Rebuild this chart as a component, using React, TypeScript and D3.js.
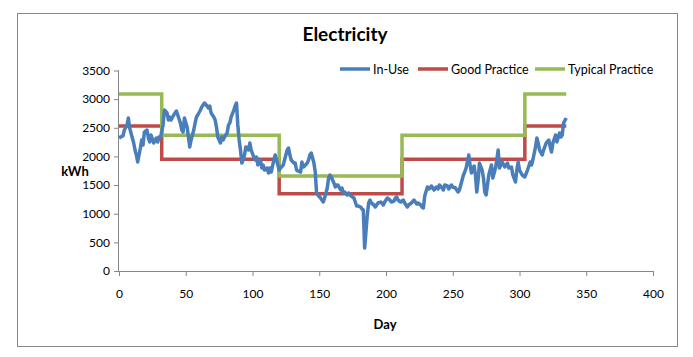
import React, { useEffect, useRef } from "react";
import * as d3 from "d3";

const title = "Electricity";
const xTicks = [0, 50, 100, 150, 200, 250, 300, 350, 400];
const yTicks = [0, 500, 1000, 1500, 2000, 2500, 3000, 3500];

// In-Use daily consumption (day, kWh)
const inUseDays = [
  0, 1, 3, 4, 6, 7, 8, 9, 11, 12, 13, 14, 16, 17, 18, 19, 21, 22, 23, 24, 26, 27, 28, 29, 30, 31,
  33, 34, 36, 37, 38, 39, 41, 42, 43, 44, 46, 47, 48, 49, 51, 52, 53, 54, 56, 57, 58, 59, 61, 62,
  63, 64, 66, 67, 68, 69, 71, 72, 73, 74, 76, 77, 78, 79, 81, 82, 83, 84, 86, 87, 88, 89, 90, 91,
  92, 93, 94, 95, 96, 97, 98, 99, 101, 102, 103, 104, 106, 107, 108, 109, 111, 112, 113, 114, 116,
  117, 118, 119, 120, 121, 123, 124, 126, 127, 128, 129, 131, 132, 133, 134, 136, 137, 138, 139,
  141, 142, 143, 144, 145, 146, 147, 148, 149, 151, 152, 153, 154, 156, 157, 158, 159, 161, 162,
  163, 164, 166, 167, 168, 169, 171, 172, 173, 174, 176, 177, 178, 179, 181, 182, 183, 184, 186,
  187, 188, 189, 191, 192, 193, 194, 196, 197, 198, 199, 201, 202, 203, 204, 206, 207, 208, 209,
  211, 212, 213, 214, 216, 217, 218, 219, 221, 222, 223, 224, 226, 227, 228, 229, 231, 232, 233,
  234, 236, 237, 238, 239, 240, 242, 243, 244, 246, 247, 248, 249, 250, 252, 253, 254, 255, 257,
  258, 259, 260, 262, 263, 264, 265, 266, 267, 268, 269, 270, 272, 273, 274, 275, 277, 278, 279,
  280, 282, 283, 284, 285, 287, 289, 291, 292, 294, 295, 297, 298, 299, 300, 302, 304, 306, 308,
  309, 310, 312, 313, 314, 315, 317, 318, 320, 322, 323, 324, 325, 327, 328, 330, 331, 332, 333, 335,
];
const inUseKWh = [
  2322, 2339, 2357, 2461, 2549, 2671, 2496, 2409, 2234, 2112, 2025, 1903, 2147, 2287, 2199, 2426,
  2461, 2322, 2252, 2374, 2234, 2287, 2322, 2252, 2339, 2322,
  2549, 2810, 2758, 2636, 2688, 2636, 2723, 2758, 2793, 2723, 2583, 2461, 2426, 2671, 2514, 2339,
  2165, 2287, 2461, 2583, 2688, 2723, 2810, 2863, 2898, 2933, 2880, 2845, 2880, 2758, 2688, 2636,
  2514, 2339, 2234, 2339, 2287, 2339, 2409, 2549, 2583, 2688, 2810, 2880, 2933, 2549, 2287, 2112,
  1885, 1938, 2025, 2165, 2147, 2112, 2234, 2112, 1990, 1938, 1990, 1850, 1938, 1798, 1850, 1763,
  1798, 1711, 1798, 1728, 1938, 2025, 1938, 1850, 1763, 1798, 1850, 1938, 2112, 2147, 2025, 1938,
  1885, 1885, 1763, 1746, 1728, 1903, 1815, 1833, 1885, 1938, 2025, 2060, 1973, 1885, 1728, 1362,
  1327, 1274, 1239, 1204, 1274, 1449, 1623, 1676, 1641, 1536, 1466, 1501, 1501, 1414, 1449, 1362,
  1379, 1327, 1362, 1327, 1309, 1274, 1204, 1135, 1135, 1117, 1082, 1065, 401, 978, 1187, 1239,
  1187, 1152, 1117, 1152, 1187, 1204, 1187, 1152, 1204, 1274, 1257, 1239, 1204, 1222, 1274, 1292,
  1239, 1204, 1222, 1239, 1187, 1117, 1152, 1170, 1187, 1239, 1204, 1170, 1187, 1152, 1117, 1100,
  1309, 1466, 1431, 1449, 1484, 1414, 1449, 1466, 1431, 1501, 1449, 1414, 1501, 1484, 1431, 1466,
  1501, 1466, 1449, 1414, 1379, 1414, 1588, 1676, 1728, 1798, 2025, 1850, 1711, 1798, 1833, 1676,
  1379, 1588, 1885, 1763, 1623, 1379, 1327, 1676, 1763, 1850, 1623, 1798, 1938, 2112, 1798, 1903,
  1815, 1885, 1798, 1815, 1676, 1554, 1763, 1903, 1763, 1676, 1641, 1763, 1903, 1850, 1938, 2165,
  2322, 2234, 2112, 2025, 2112, 2234, 2287, 2165, 2077, 2234, 2374, 2252, 2409, 2339, 2374, 2583, 2671,
];

// Benchmark step levels (start day of each period, kWh)
const stepDays = [0, 32, 120, 212, 304, 335];
const goodPractice = [2530, 1950, 1350, 1950, 2530, 2530];
const typicalPractice = [3090, 2370, 1660, 2370, 3090, 3090];

const seriesNames = ["In-Use", "Good Practice", "Typical Practice"];
const seriesColors = ["#4A7EBB", "#BE4B48", "#98B954"];

export default function App() {
  const ref = useRef<SVGSVGElement | null>(null);

  useEffect(() => {
    const svg = d3.select(ref.current);
    svg.selectAll("*").remove();
    const W = 693, H = 357;
    const font = "Lato, 'Open Sans', sans-serif";
    const left = 119, right = 653, top = 70.5, bottom = 271;

    svg.append("rect").attr("x", 0).attr("y", 0).attr("width", W).attr("height", H).attr("fill", "#fff");
    svg.append("rect").attr("x", 17.5).attr("y", 13.5).attr("width", 660).attr("height", 333)
      .attr("fill", "#fff").attr("stroke", "#868686").attr("stroke-width", 1);

    const x = d3.scaleLinear().domain([0, 400]).range([left, right]);
    const y = d3.scaleLinear().domain([0, 3500]).range([bottom, top]);

    // Y axis
    const yAxis = svg.append("g").attr("transform", `translate(${left},0)`)
      .call(d3.axisLeft(y).tickValues(yTicks).tickSize(5).tickPadding(4).tickFormat(d3.format("d")));
    yAxis.select(".domain").attr("stroke", "#868686").attr("d", `M-0.5,${bottom}V${top}`);
    yAxis.selectAll(".tick line").attr("stroke", "#868686");
    yAxis.selectAll("text").attr("font-family", font).attr("font-size", 12).attr("fill", "#000");

    // X axis
    const xAxis = svg.append("g").attr("transform", `translate(0,${bottom})`)
      .call(d3.axisBottom(x).tickValues(xTicks).tickSize(5).tickPadding(13).tickFormat(d3.format("d")));
    xAxis.select(".domain").attr("stroke", "#868686").attr("d", `M${left},0.5H${right}`);
    xAxis.selectAll(".tick line").attr("stroke", "#868686");
    xAxis.selectAll("text").attr("font-family", font).attr("font-size", 12).attr("fill", "#000");

    // Lines
    const stepLine = d3.line<number>().x((_, i) => x(stepDays[i])).y((d) => y(d)).curve(d3.curveStepAfter);
    svg.append("path").attr("d", stepLine(goodPractice)).attr("fill", "none")
      .attr("stroke", seriesColors[1]).attr("stroke-width", 3.5);
    svg.append("path").attr("d", stepLine(typicalPractice)).attr("fill", "none")
      .attr("stroke", seriesColors[2]).attr("stroke-width", 3.5);
    const useLine = d3.line<number>().x((_, i) => x(inUseDays[i])).y((d) => y(d));
    svg.append("path").attr("d", useLine(inUseKWh)).attr("fill", "none")
      .attr("stroke", seriesColors[0]).attr("stroke-width", 3.5).attr("stroke-linejoin", "round");

    // Title & axis titles
    svg.append("text").attr("x", 345).attr("y", 41).attr("text-anchor", "middle")
      .attr("font-family", font).attr("font-weight", "bold").attr("font-size", 19).text(title);
    svg.append("text").attr("x", 75).attr("y", 176).attr("text-anchor", "middle")
      .attr("font-family", font).attr("font-weight", "bold").attr("font-size", 13).text("kWh");
    svg.append("text").attr("x", 385).attr("y", 329).attr("text-anchor", "middle")
      .attr("font-family", font).attr("font-weight", "bold").attr("font-size", 13).text("Day");

    // Legend
    const legendX = [340, 418, 535];
    seriesNames.forEach((name, i) => {
      const g = svg.append("g").attr("transform", `translate(${legendX[i]},69)`);
      g.append("line").attr("x1", 0).attr("x2", 30).attr("y1", 0).attr("y2", 0)
        .attr("stroke", seriesColors[i]).attr("stroke-width", 3.5);
      g.append("text").attr("x", 33).attr("y", 4.5).attr("font-family", font).attr("font-size", 12.5)
        .text(name);
    });
  }, []);

  return (
    <div style={{ position: "fixed", left: 0, top: 0 }}>
      <svg ref={ref} width={693} height={357} style={{ display: "block" }} />
    </div>
  );
}
